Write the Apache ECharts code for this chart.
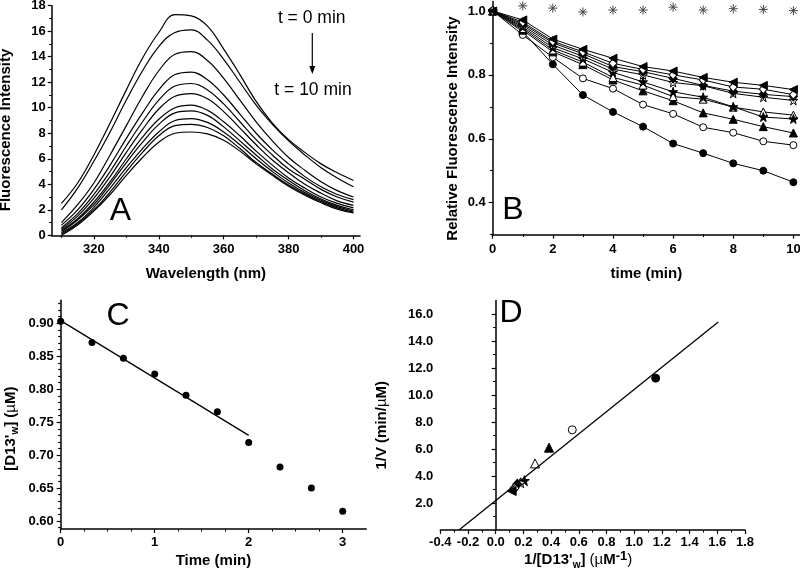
<!DOCTYPE html>
<html>
<head>
<meta charset="utf-8">
<script src="https://cdn.jsdelivr.net/npm/echarts@6/dist/echarts.min.js"></script>
<style>html,body{margin:0;padding:0;background:#fff}#c{width:800px;height:578px}</style>
</head>
<body>
<div id="c"></div>
<script>
// ---------------- Panel A: emission spectra (t = 0 ... 10 min) ----------------
const wavelengths = [310,315,320,325,330,335,340,345,350,355,360,365,370,375,380,385,390,395,400];
const spectrumT0  = [2.5,4.1,6.3,8.8,11.4,13.9,15.9,17.3,17.2,16.4,14.6,12.6,10.5,8.8,7.5,6.5,5.6,4.9,4.3];
const spectrumT1  = [2.0,3.7,5.8,8.1,10.6,12.9,14.8,15.9,16.1,15.3,13.8,12.0,10.2,8.7,7.4,6.3,5.3,4.5,3.8];
const spectrumT2  = [1.0,2.4,4.1,6.3,8.6,10.9,12.9,14.2,14.4,13.7,12.3,10.6,8.9,7.4,6.1,5.1,4.2,3.5,3.0];
const spectrumT3  = [0.8,2.0,3.6,5.5,7.6,9.6,11.4,12.6,12.8,12.2,11.0,9.5,8.0,6.7,5.6,4.6,3.8,3.2,2.8];
const spectrumT4  = [0.6,1.7,3.2,5.0,7.0,8.9,10.6,11.7,11.9,11.4,10.3,8.9,7.5,6.3,5.2,4.4,3.6,3.0,2.6];
const spectrumT5  = [0.5,1.5,2.9,4.6,6.5,8.3,9.9,10.9,11.1,10.7,9.7,8.4,7.1,5.9,4.9,4.0,3.3,2.7,2.35];
const spectrumT6  = [0.4,1.3,2.6,4.2,6.0,7.7,9.1,10.0,10.2,9.8,8.9,7.8,6.6,5.5,4.5,3.7,3.0,2.5,2.15];
const spectrumT7  = [0.3,1.2,2.4,4.0,5.7,7.3,8.7,9.6,9.75,9.4,8.5,7.4,6.3,5.2,4.3,3.5,2.85,2.35,2.0];
const spectrumT8  = [0.2,1.0,2.2,3.7,5.3,6.8,8.1,9.0,9.15,8.85,8.1,7.1,6.0,5.0,4.1,3.35,2.75,2.25,1.9];
const spectrumT9  = [0.1,0.9,2.0,3.4,5.0,6.5,7.8,8.6,8.7,8.45,7.8,6.8,5.7,4.8,3.95,3.25,2.65,2.15,1.8];
const spectrumT10 = [0.0,0.8,1.9,3.2,4.7,6.1,7.3,8.0,8.1,7.95,7.45,6.6,5.6,4.7,3.85,3.15,2.55,2.05,1.75];
const spectra = [spectrumT0,spectrumT1,spectrumT2,spectrumT3,spectrumT4,spectrumT5,spectrumT6,spectrumT7,spectrumT8,spectrumT9,spectrumT10];
const aXLabels = [320,340,360,380,400];
const aXMinor  = [310,330,350,370,390];

// ---------------- Panel B: relative fluorescence vs time ----------------
const timesB = [0,1,2,3,4,5,6,7,8,9,10];
const relFilledCircle   = [1.0,0.935,0.833,0.737,0.684,0.638,0.585,0.555,0.523,0.500,0.464];
const relOpenCircle     = [1.0,0.925,0.855,0.789,0.757,0.707,0.678,0.636,0.619,0.592,0.580];
const relFilledTriangle = [1.0,0.940,0.872,0.832,0.784,0.750,0.719,0.681,0.661,0.638,0.618];
const relOpenTriangle   = [1.0,0.945,0.878,0.840,0.792,0.768,0.732,0.724,0.699,0.684,0.674];
const relFilledStar     = [1.0,0.950,0.885,0.850,0.808,0.778,0.747,0.730,0.700,0.668,0.662];
const relOpenStar       = [1.0,0.955,0.893,0.858,0.818,0.800,0.776,0.766,0.742,0.730,0.720];
const relFilledDiamond  = [1.0,0.960,0.900,0.866,0.826,0.810,0.789,0.767,0.749,0.739,0.732];
const relOpenDiamond    = [1.0,0.965,0.905,0.872,0.836,0.817,0.800,0.784,0.762,0.755,0.738];
const relLeftTriangle   = [1.0,0.972,0.912,0.880,0.852,0.826,0.812,0.792,0.777,0.767,0.754];
const relControl        = [1.0,1.016,1.009,0.997,1.003,1.003,1.012,1.003,1.007,1.005,1.001];
const bXLabels = [0,2,4,6,8,10];
const bYLabels = [0.4,0.6,0.8,1.0];
const bYMinor  = [0.3,0.5,0.7,0.9];

// ---------------- Panel C: [D13'w] vs time ----------------
const timesC = [0,0.333,0.667,1,1.333,1.667,2,2.333,2.667,3];
const concC  = [0.903,0.871,0.847,0.823,0.791,0.766,0.719,0.682,0.650,0.615];
const fitCx  = [0,2];
const fitCy  = [0.904,0.730];
const cXLabels = [0,1,2,3];
const cYLabels = [0.60,0.65,0.70,0.75,0.80,0.85,0.90];
const cYMinor = [];
for (let k = 59; k <= 93; k++) { if (k % 5 !== 0) cYMinor.push(k / 100); }

// ---------------- Panel D: double reciprocal plot ----------------
const invConc = [1.155,0.553,0.385,0.284,0.207,0.180,0.156,0.135,0.115];
const invV    = [11.25,7.42,6.10,4.93,3.65,3.50,3.38,3.10,2.89];
const dMarkers = ['fc','oc','ft','ot','fs','os','fd','od','lt'];
const fitDx = [-0.265,1.607];
const fitDy = [0,15.4];
const dXLabels = [-0.4,-0.2,0.0,0.2,0.4,0.6,0.8,1.0,1.2,1.4,1.6,1.8];
const dYLabels = [2,4,6,8,10,12,14,16];

// ---------------- styling ----------------
const FONT = '"Liberation Sans", Arial, Helvetica, sans-serif';
const BLACK = '#000';
const STAR = 'path://M50,2 L61.2,36.5 L97.6,36.5 L68.2,57.9 L79.4,92.5 L50,71.1 L20.6,92.5 L31.8,57.9 L2.4,36.5 L38.8,36.5 Z';
const ASTER = 'path://M0,50 L100,50 M50,0 L50,100 M15,15 L85,85 M85,15 L15,85';
const MARK = {
  fc: {symbol:'circle', size:7, fill:BLACK},
  oc: {symbol:'circle', size:7, fill:'#fff'},
  ft: {symbol:'triangle', size:8, fill:BLACK},
  ot: {symbol:'triangle', size:8, fill:'#fff'},
  fs: {symbol:STAR, size:9, fill:BLACK},
  os: {symbol:STAR, size:9, fill:'#fff'},
  fd: {symbol:'diamond', size:[8,9], fill:BLACK},
  od: {symbol:'diamond', size:[8,9], fill:'#fff'},
  lt: {symbol:'triangle', size:8, fill:BLACK, rotate:90}
};

function vAxis(o) {
  const ax = {
    type: 'value', gridIndex: o.grid, min: o.min, max: o.max, position: o.position,
    name: o.name || '', nameLocation: 'middle', nameGap: o.nameGap || 0, nameMoveOverlap: false,
    nameTextStyle: {color: BLACK, fontFamily: FONT, fontSize: 15, fontWeight: 'bold', lineHeight: 20, padding: o.namePad || 0},
    axisLine: {show: o.line !== false, onZero: true, lineStyle: {color: BLACK, width: 1.5}},
    axisTick: {show: true, inside: false, length: o.tickLen || 4, lineStyle: {color: BLACK, width: 1.2}},
    minorTick: {show: !!o.minorSplit, splitNumber: o.minorSplit || 5, length: 2.5, lineStyle: {color: BLACK, width: 1}},
    splitLine: {show: false},
    minorSplitLine: {show: false},
    axisLabel: {show: o.labels !== false, color: BLACK, fontFamily: FONT, fontSize: 13, fontWeight: 'bold', margin: o.margin || 7},
    silent: true
  };
  if (o.fmt) ax.axisLabel.formatter = o.fmt;
  if (o.rich) ax.nameTextStyle.rich = o.rich;
  if (o.interval != null) ax.interval = o.interval;
  if (o.ticks) ax.axisTick.customValues = o.ticks;
  if (Array.isArray(o.labels)) ax.axisLabel.customValues = o.labels;
  return ax;
}
const f0 = v => String(Math.round(v));
const f1 = v => v.toFixed(1);
const f2 = v => v.toFixed(2);
const richSub = {
  s: {fontSize: 10, fontWeight: 'bold', fontFamily: FONT, verticalAlign: 'bottom', lineHeight: 10},
  p: {fontSize: 13, fontWeight: 'bold', fontFamily: FONT, verticalAlign: 'top', lineHeight: 13},
  n: {fontSize: 15, fontWeight: 'normal', fontFamily: FONT}
};

const xAxes = [
  vAxis({grid:0, min:307, max:402, position:'bottom', ticks:aXLabels, labels:aXLabels, fmt:f0, margin:8,
         name:'Wavelength (nm)', nameGap:29}),
  vAxis({grid:1, min:0, max:10.22, position:'bottom', interval:2, minorSplit:2, ticks:bXLabels, labels:bXLabels, fmt:f0, margin:8,
         name:'time (min)', nameGap:29}),
  vAxis({grid:2, min:0, max:3.25, position:'bottom', interval:1, minorSplit:4, ticks:cXLabels, labels:cXLabels, fmt:f0, margin:7,
         name:'Time (min)', nameGap:22}),
  vAxis({grid:3, min:-0.4, max:1.8, position:'bottom', interval:0.2, minorSplit:2, ticks:dXLabels, labels:dXLabels, fmt:f1, margin:6,
         name:"1/[D13'{s|w}] {n|(µ}M{p|-1}{n|)}", rich:richSub, nameGap:20, namePad:[0,29,0,0]}),
  vAxis({grid:0, min:307, max:402, position:'bottom', line:false, labels:false, ticks:aXMinor, tickLen:2.5})
];
const yAxes = [
  vAxis({grid:0, min:0, max:18, position:'left', interval:2, minorSplit:2, fmt:f0, margin:6,
         name:'Fluorescence Intensity', nameGap:36, namePad:[0,19,0,0]}),
  vAxis({grid:1, min:0.3, max:1.03, position:'left', ticks:bYLabels, labels:bYLabels, fmt:f1, margin:7,
         name:'Relative Fluorescence Intensity', nameGap:30, namePad:[0,21,0,0]}),
  vAxis({grid:2, min:0.588, max:0.935, position:'left', ticks:cYLabels, labels:cYLabels, fmt:f2, margin:7,
         name:"[D13'{s|w}] ({n|µ}M)", rich:richSub, nameGap:40, namePad:[0,28,0,0]}),
  vAxis({grid:3, min:0, max:17, position:'left', interval:2, minorSplit:2, ticks:dYLabels, labels:dYLabels, fmt:f1, margin:7,
         name:'1/V (min/{n|µ}M)', rich:richSub, nameGap:48, namePad:[0,20,0,0]}),
  vAxis({grid:1, min:0.3, max:1.03, position:'left', line:false, labels:false, ticks:bYMinor, tickLen:2.5}),
  vAxis({grid:2, min:0.588, max:0.935, position:'left', line:false, labels:false, ticks:cYMinor, tickLen:2.5})
];

const series = [];
// A
spectra.forEach(s => {
  series.push({type:'line', xAxisIndex:0, yAxisIndex:0, data: wavelengths.map((w, j) => [w, s[j]]),
    smooth:0.4, symbol:'none', lineStyle:{color:BLACK, width:1.2}, silent:true});
});
// B
const bSets = [
  [relFilledCircle,'fc'],[relOpenCircle,'oc'],[relFilledTriangle,'ft'],[relOpenTriangle,'ot'],
  [relFilledStar,'fs'],[relOpenStar,'os'],[relFilledDiamond,'fd'],[relOpenDiamond,'od'],[relLeftTriangle,'lt']
];
bSets.forEach(([vals, key]) => {
  const m = MARK[key];
  series.push({type:'line', xAxisIndex:1, yAxisIndex:1, data: timesB.map((t, j) => [t, vals[j]]),
    symbol:m.symbol, symbolSize:m.size, symbolRotate:m.rotate || 0, showAllSymbol:true,
    lineStyle:{color:BLACK, width:1}, itemStyle:{color:m.fill, borderColor:BLACK, borderWidth:1, opacity:1}, silent:true});
});
series.push({type:'scatter', xAxisIndex:1, yAxisIndex:1, data: timesB.map((t, j) => [t, relControl[j]]),
  symbol:ASTER, symbolSize:9, itemStyle:{color:'rgba(0,0,0,0)', borderColor:'#444', borderWidth:1, opacity:1}, silent:true, z:1});
// C
series.push({type:'line', xAxisIndex:2, yAxisIndex:2, data: fitCx.map((x, j) => [x, fitCy[j]]),
  symbol:'none', lineStyle:{color:BLACK, width:1.3}, silent:true});
series.push({type:'scatter', xAxisIndex:2, yAxisIndex:2, data: timesC.map((t, j) => [t, concC[j]]),
  symbol:'circle', symbolSize:7, itemStyle:{color:BLACK, opacity:1}, silent:true});
// D
series.push({type:'line', xAxisIndex:3, yAxisIndex:3, data: fitDx.map((x, j) => [x, fitDy[j]]),
  symbol:'none', lineStyle:{color:BLACK, width:1.3}, silent:true});
invConc.forEach((x, j) => {
  const m = MARK[dMarkers[j]];
  series.push({type:'scatter', xAxisIndex:3, yAxisIndex:3, data:[[x, invV[j]]],
    symbol:m.symbol, symbolSize: Array.isArray(m.size) ? m.size.map(v => v + 1) : m.size + 1, symbolRotate:m.rotate || 0,
    itemStyle:{color:m.fill, borderColor:BLACK, borderWidth:1, opacity:1}, silent:true});
});

const letter = (txt, x, y) => ({type:'text', x, y, silent:true,
  style:{text:txt, fill:BLACK, font:'normal 32px ' + FONT, align:'center', verticalAlign:'middle'}});

const option = {
  animation: false,
  backgroundColor: '#fff',
  textStyle: {fontFamily: FONT, color: BLACK},
  grid: [
    {left:51.7, top:5.7, right:440, bottom:342.7, containLabel:false, outerBoundsMode:'none'},
    {left:492.7, top:1.4, right:0, bottom:343.4, containLabel:false, outerBoundsMode:'none'},
    {left:60.7, top:300.2, right:433.8, bottom:49, containLabel:false, outerBoundsMode:'none'},
    {left:440.3, top:300.5, right:55, bottom:48, containLabel:false, outerBoundsMode:'none'}
  ],
  xAxis: xAxes,
  yAxis: yAxes,
  series: series,
  graphic: [
    letter('A', 120.5, 211.5),
    letter('B', 513, 210),
    letter('C', 118, 316.5),
    letter('D', 511, 313.5),
    {type:'text', x:311.7, y:18.5, silent:true,
      style:{text:'t = 0 min', fill:BLACK, font:'normal 17.5px ' + FONT, align:'center', verticalAlign:'middle'}},
    {type:'text', x:313, y:90, silent:true,
      style:{text:'t = 10 min', fill:BLACK, font:'normal 17.5px ' + FONT, align:'center', verticalAlign:'middle'}},
    {type:'line', silent:true, shape:{x1:312.3, y1:33, x2:312.3, y2:68}, style:{stroke:BLACK, lineWidth:1.2}},
    {type:'polygon', silent:true, shape:{points:[[309.3,66],[315.3,66],[312.3,74]]}, style:{fill:BLACK}}
  ]
};
const chart = echarts.init(document.getElementById('c'), null, {renderer:'canvas'});
chart.setOption(option);
</script>
</body>
</html>
